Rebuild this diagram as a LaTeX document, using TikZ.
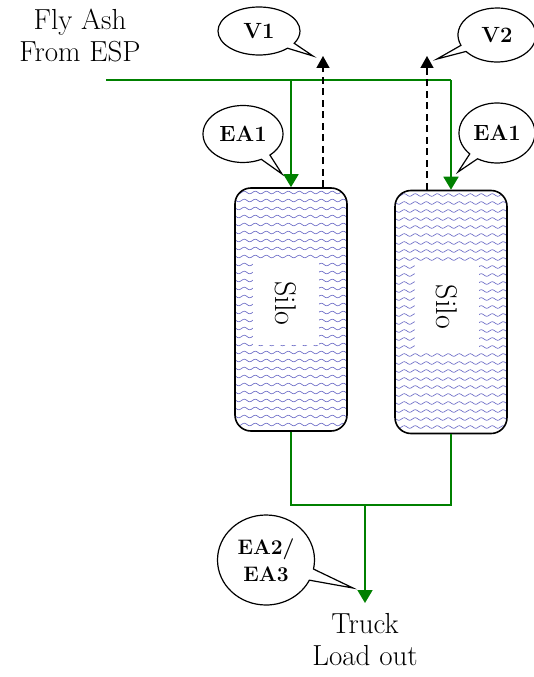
\documentclass[tikz,border=0pt]{standalone}
\usepackage{fontspec}
\usetikzlibrary{arrows.meta,shapes.callouts}
\definecolor{ashgreen}{RGB}{0,128,0}
\definecolor{waveblue}{RGB}{100,100,195}

\begin{document}
\begin{tikzpicture}[x=1pt, y=-1pt,
  every node/.style={font=\fontsize{29}{32}\selectfont},
  wave/.style={draw=waveblue, line width=0.6pt},
  silo/.style={draw, line width=1.6pt, rounded corners=16pt,
    minimum width=112pt, minimum height=243pt,
    path picture={\begin{scope}[sharp corners]
      \foreach \k in {0,...,30}
        \draw[wave] plot[domain=-60:60, samples=90, smooth]
          (\x, {-117+8*\k+1.3*sin(32.73*\x)});
    \end{scope}}},
  silolabel/.style={fill=white, rotate=-90, inner sep=0pt,
    font=\fontsize{30}{32}\selectfont},
  tag/.style={ellipse callout, draw, line width=1.2pt, inner sep=0pt,
    font=\fontsize{22}{27}\selectfont\bfseries},
  feed/.style={draw=ashgreen, line width=1.8pt},
  feedarrow/.style={feed, -{Triangle[width=15pt,length=13pt]}},
  vent/.style={line width=1.5pt, dash pattern=on 7pt off 4.5pt,
    -{Triangle[width=13pt,length=12pt]}}
]
\useasboundingbox (0,0) rectangle (534,677);

% silos
\node (silo1) [silo] at (291,309.5) {};
\node (silo2) [silo] at (451,312) {};
\node (lbl1) [silolabel, minimum width=83pt, minimum height=66pt] at (286,303.5) {Silo};
\node (lbl2) [silolabel, minimum width=90pt, minimum height=64pt] at (447,307) {Silo};

% texts
\node (ash) [align=center] at (80,35) {Fly Ash\\From ESP};
\node (truck) [align=center, anchor=north, inner xsep=2pt, inner ysep=10pt] at (365,603) {Truck\\Load out};

% feed line
\coordinate (feedin) at (106,80);
\coordinate (j1) at (291,80);
\coordinate (j2) at (451,80);
\draw[feed] (feedin) -- (j2);
\draw[feedarrow] (j1) -- (silo1.north);
\draw[feedarrow] (j2) -- (silo2.north);

% vents
\coordinate (v1end) at (323,56);
\coordinate (v2end) at (427,56);
\draw[vent] (v1end |- silo1.north) -- (v1end);
\draw[vent] (v2end |- silo2.north) -- (v2end);

% load out
\coordinate (merge) at (365,505);
\draw[feed] (silo1.south) |- (merge) -| (silo2.south);
\draw[feedarrow] (merge) -- (truck.north);

% callouts
\node (v1) [tag, minimum width=82pt, minimum height=48pt,
  callout absolute pointer={(313,56)}] at (259,31) {V1};
\node (v2) [tag, minimum width=78pt, minimum height=54pt,
  callout absolute pointer={(437,59)}] at (497,35) {V2};
\node (ea1a) [tag, minimum width=80pt, minimum height=57pt,
  callout absolute pointer={(282,174)}] at (243,134) {EA1};
\node (ea1b) [tag, minimum width=76pt, minimum height=60pt,
  callout absolute pointer={(458,172)}] at (497,133) {EA1};
\node (ea2) [tag, align=center, minimum width=97pt, minimum height=90pt,
  font=\fontsize{21}{27}\selectfont\bfseries,
  callout absolute pointer={(353,588)}] at (266,560) {EA2/\\EA3};
\end{tikzpicture}
\end{document}
